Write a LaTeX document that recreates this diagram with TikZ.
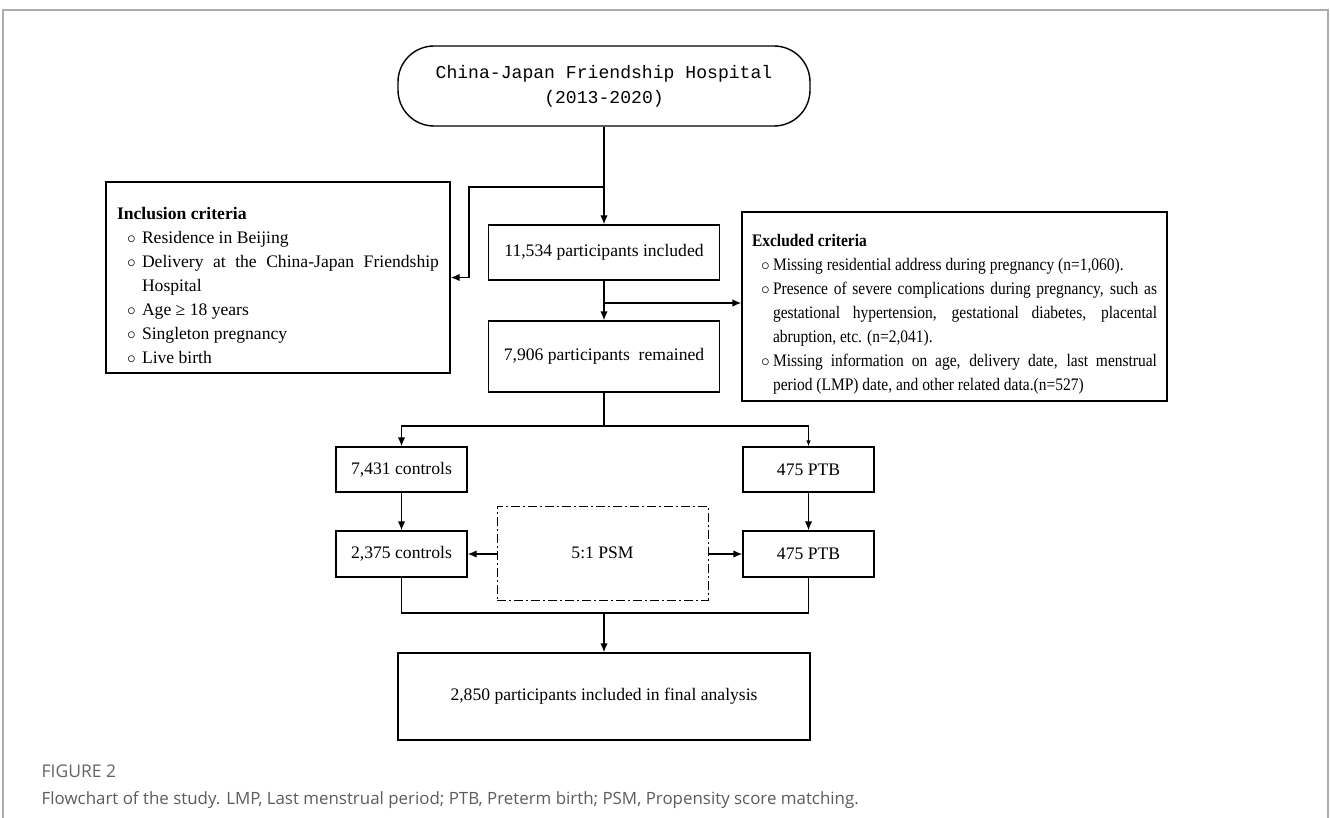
\documentclass[tikz,border=0pt]{standalone}
\usepackage{fontspec}
\setmainfont{Liberation Serif}
\newfontfamily\monohosp{Liberation Mono}
\newfontfamily\narrowserif[FakeStretch=0.88]{Liberation Serif}
\newfontfamily\capfont{Open Sans}
\usetikzlibrary{arrows.meta}

\definecolor{framegray}{RGB}{172,172,172}
\definecolor{capgray}{RGB}{92,92,92}
\definecolor{figgray}{RGB}{100,100,100}

\hyphenpenalty=10000
\exhyphenpenalty=10000
\tolerance=9999

\newlength{\critind}
\newlength{\critbul}
\newcommand{\critem}[1]{\par\hangindent=\critind\hangafter=1\noindent\makebox[\critind][l]{\hspace{\critbul}$\circ$}#1}

\tikzset{
  box/.style={draw, rectangle, line width=1.4pt, align=center, font=\fontsize{17.6}{22}\selectfont},
  critbox/.style={draw, rectangle, line width=1.4pt, align=justify, inner xsep=10pt, font=\fontsize{17.6}{24}\selectfont},
  thinarrow/.style={-{Latex[length=6pt,width=4.5pt]}, line width=0.9pt},
}

\begin{document}
\begin{tikzpicture}[x=1pt, y=-1pt, >={Latex[length=9pt,width=7.5pt]}, line width=1.4pt]

\useasboundingbox (0,0) rectangle (1330,818);
% page frame
\draw[framegray, line width=2pt] (3,818) -- (3,10) -- (1328,10) -- (1328,818);

\node [box, rounded corners=36pt, minimum width=412pt, minimum height=80pt,
       font=\monohosp\fontsize{18.1}{25}\selectfont] (hosp) at (604,86)
      {China-Japan Friendship Hospital\\(2013-2020)};

\node [critbox, text width=322pt, minimum height=191pt, inner xsep=11pt] (incl) at (278,277.5)
      {\setlength{\critind}{25pt}\setlength{\critbul}{10pt}%
       \noindent\rule{0pt}{28pt}{\bfseries Inclusion criteria}
       \critem{Residence in Beijing}
       \critem{Delivery at the China-Japan Friendship\linebreak Hospital}
       \critem{Age ≥ 18 years}
       \critem{Singleton pregnancy}
       \critem{Live birth}\par};

\node [box, minimum width=231pt, minimum height=55pt] (base) at (604,252.5) {11,534 participants included};
\node [box, minimum width=231pt, minimum height=71pt] (remain) at (604,356.5) {7,906 participants\ \ remained};

\node [critbox, font=\narrowserif\fontsize{17.6}{24}\selectfont, text width=405pt, minimum height=189pt] (excl) at (954.5,306.5)
      {\setlength{\critind}{21pt}\setlength{\critbul}{9pt}%
       \noindent\rule{0pt}{28pt}{\bfseries Excluded criteria}
       \critem{Missing residential address during pregnancy (n=1,060).}
       \critem{Presence of severe complications during pregnancy, such as\linebreak gestational hypertension, gestational diabetes, placental\linebreak abruption, etc. (n=2,041).}
       \critem{Missing information on age, delivery date, last menstrual\linebreak period (LMP) date, and other related data.(n=527)}\par};

\node [box, minimum width=131pt, minimum height=45pt] (ctrlA) at (401.5,469.5) {7,431 controls};
\node [box, minimum width=131pt, minimum height=45pt] (ptbA) at (808.5,469.5) {475 PTB};
\node [box, minimum width=131pt, minimum height=46pt] (ctrlB) at (401.5,554) {2,375 controls};
\node [box, minimum width=131pt, minimum height=46pt] (ptbB) at (808.5,554) {475 PTB};
\node [box, line width=1pt, dash pattern=on 9pt off 3pt on 2pt off 3pt,
       minimum width=211pt, minimum height=94pt] (psm) at (602.5,553) {5:1 PSM};
\node [box, minimum width=412pt, minimum height=87pt] (final) at (604,696.5) {2,850 participants included in final analysis};

\coordinate (inclturn) at (469,187);
\coordinate (exclturn) at (604,303);
\coordinate (splitL) at (401.5,426);
\coordinate (join) at (604,613);

\draw [->] (hosp.south) -- (base.north);
\draw [->] (hosp.south |- inclturn) -- (inclturn) |- (incl.east);
\draw [->] (base) -- (remain);
\draw [->] (exclturn) -- (exclturn -| excl.west);
\draw [->] (remain.south) |- (splitL) -- (ctrlA.north);
\draw (remain.south |- splitL) -- (splitL -| ptbA.north);
\draw [thinarrow] (splitL -| ptbA.north) -- (ptbA.north);
\draw [->] (ctrlA) -- (ctrlB);
\draw [->] (ptbA) -- (ptbB);
\draw [->] (psm.west |- ctrlB) -- (ctrlB.east);
\draw [->] (psm.east |- ptbB) -- (ptbB.west);
\draw (ctrlB.south) |- (join) -| (ptbB.south);
\draw [->] (join) -- (final.north);

%\node (caption)
\node [anchor=base west, inner sep=0pt, font=\capfont\fontsize{17.5}{20}\selectfont, text=figgray] (figlabel) at (41,777) {FIGURE 2};
\node [anchor=base west, inner sep=0pt, font=\capfont\fontsize{16.9}{20}\selectfont, text=capgray] (figtext) at (41,804)
      {Flowchart of the study. LMP, Last menstrual period; PTB, Preterm birth; PSM, Propensity score matching.};

\end{tikzpicture}
\end{document}
